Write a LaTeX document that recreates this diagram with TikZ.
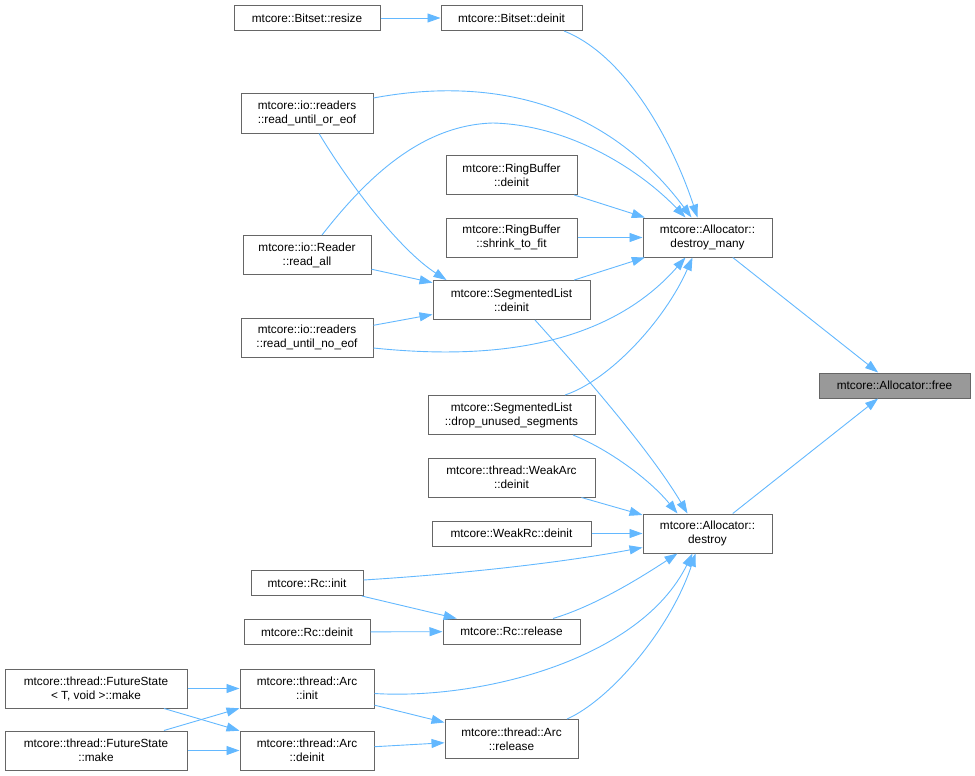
\documentclass[tikz,border=0pt]{standalone}
\usepackage{fontspec}
\setmainfont{Liberation Sans}
\usepackage{tikz}
\usetikzlibrary{arrows.meta}
\definecolor{callblue}{HTML}{63B8FF}
\definecolor{boxgray}{HTML}{666666}
\definecolor{rootgray}{HTML}{999999}
\tikzset{
 fn/.style={draw=boxgray,line width=1pt,fill=white,inner sep=0pt,align=center,
  font=\fontsize{11.8}{14}\selectfont,minimum height=25pt},
 fn2/.style={fn,minimum height=39pt},
 root/.style={fn,fill=rootgray},
 call/.style={draw=callblue,line width=0.9pt,-{Triangle[length=13pt,width=9pt]}}
}
\begin{document}
\begin{tikzpicture}[x=1pt,y=-1pt]
\useasboundingbox (0,0) rectangle (975,776);
% the function and its two direct callers
\node[root,minimum width=151pt] (free) at (894.5,385.5) {mtcore::Allocator::free};
\node[fn2,minimum width=129pt] (dmany) at (707.5,237.5) {mtcore::Allocator::\\destroy\_many};
\node[fn2,minimum width=129pt] (destroy) at (707.5,533.5) {mtcore::Allocator::\\destroy};
% callers of destroy_many
\node[fn,minimum width=141pt] (bsdeinit) at (511.5,18) {mtcore::Bitset::deinit};
\node[fn,minimum width=146pt] (bsresize) at (307,18) {mtcore::Bitset::resize};
\node[fn2,minimum width=132pt] (rdorfeof) at (307,113.5) {mtcore::io::readers\\::read\_until\_or\_eof};
\node[fn2,minimum width=131pt] (rbdeinit) at (511.5,175) {mtcore::RingBuffer\\::deinit};
\node[fn2,minimum width=131pt] (rbshrink) at (511.5,237.5) {mtcore::RingBuffer\\::shrink\_to\_fit};
\node[fn2,minimum width=128pt] (rdall) at (307,255) {mtcore::io::Reader\\::read\_all};
\node[fn2,minimum width=157pt] (sldeinit) at (511.5,300) {mtcore::SegmentedList\\::deinit};
\node[fn2,minimum width=132pt] (rdnoeof) at (307,337.5) {mtcore::io::readers\\::read\_until\_no\_eof};
\node[fn2,minimum width=167pt] (sldrop) at (511.5,415) {mtcore::SegmentedList\\::drop\_unused\_segments};
% callers of destroy
\node[fn2,minimum width=167pt] (wadeinit) at (511.5,477.5) {mtcore::thread::WeakArc\\::deinit};
\node[fn,minimum width=159pt] (wrcdeinit) at (511.5,533.5) {mtcore::WeakRc::deinit};
\node[fn,minimum width=112pt] (rcinit) at (307,583) {mtcore::Rc::init};
\node[fn,minimum width=126pt] (rcdeinit) at (307,632) {mtcore::Rc::deinit};
\node[fn,minimum width=137pt] (rcrelease) at (511.5,631.5) {mtcore::Rc::release};
\node[fn2,minimum width=134pt] (arcinit) at (307,688.5) {mtcore::thread::Arc\\::init};
\node[fn2,minimum width=134pt] (arcdeinit) at (307,750.5) {mtcore::thread::Arc\\::deinit};
\node[fn2,minimum width=133pt] (arcrelease) at (511.5,739) {mtcore::thread::Arc\\::release};
\node[fn2,minimum width=182pt] (fsmake) at (96,688.5) {mtcore::thread::FutureState\\< T, void >::make};
\node[fn2,minimum width=182pt] (fsmakeb) at (96,750.5) {mtcore::thread::FutureState\\::make};

\draw[call] (dmany) -- (free);
\draw[call] (destroy) -- (free);
\draw[call] (bsresize) -- (bsdeinit);
\draw[call] ([xshift=52.5pt]bsdeinit.south) .. controls (625,55) and (672,140) .. ([xshift=-10pt]dmany.north);
\draw[call] ([yshift=15.5pt]rdorfeof.east) .. controls (480,78) and (600,95) .. ([xshift=-16pt]dmany.north);
\draw[call] ([xshift=15pt]rdall.north) .. controls (365,180) and (420,125) .. (493,123)
 .. controls (570,125) and (640,170) .. ([xshift=-22pt]dmany.north);
\draw[call] ([xshift=12pt]rdorfeof.south) .. controls (350,185) and (400,250) .. ([xshift=14pt]sldeinit.north west);
\draw[call] (rdall) -- (sldeinit);
\draw[call] (rdnoeof) -- (sldeinit);
\draw[call] ([yshift=-10.5pt]rdnoeof.east) .. controls (470,358) and (600,355) .. ([xshift=-22pt]dmany.south);
\draw[call] (rbdeinit) -- (dmany);
\draw[call] (rbshrink) -- (dmany);
\draw[call] (sldeinit) -- (dmany);
\draw[call] ([xshift=23.5pt]sldeinit.south) .. controls (580,370) and (650,450) .. ([xshift=-20pt]destroy.north);
\draw[call] ([xshift=53.5pt]sldrop.north) .. controls (610,380) and (665,320) .. ([xshift=-15pt]dmany.south);
\draw[call] ([xshift=61.5pt]sldrop.south) .. controls (610,450) and (650,480) .. ([xshift=-30pt]destroy.north);
\draw[call] (wadeinit) -- (destroy);
\draw[call] (wrcdeinit) -- (destroy);
\draw[call] ([yshift=3pt]rcinit.east) .. controls (460,574) and (560,563) .. ([yshift=-14pt]destroy.west);
\draw[call] (rcinit) -- (rcrelease);
\draw[call] (rcdeinit) -- (rcrelease);
\draw[call] ([xshift=41.5pt]rcrelease.north) .. controls (595,606) and (640,578) .. ([xshift=-30pt]destroy.south);
\draw[call] ([yshift=-5pt]arcinit.east) .. controls (480,700) and (640,660) .. ([xshift=-15pt]destroy.south);
\draw[call] (arcinit) -- (arcrelease);
\draw[call] (arcdeinit) -- (arcrelease);
\draw[call] ([xshift=55.5pt]arcrelease.north) .. controls (610,700) and (670,630) .. ([xshift=-12pt]destroy.south);
\draw[call] (fsmake) -- (arcinit);
\draw[call] (fsmake) -- (arcdeinit);
\draw[call] (fsmakeb) -- (arcinit);
\draw[call] (fsmakeb) -- (arcdeinit);
\end{tikzpicture}
\end{document}
